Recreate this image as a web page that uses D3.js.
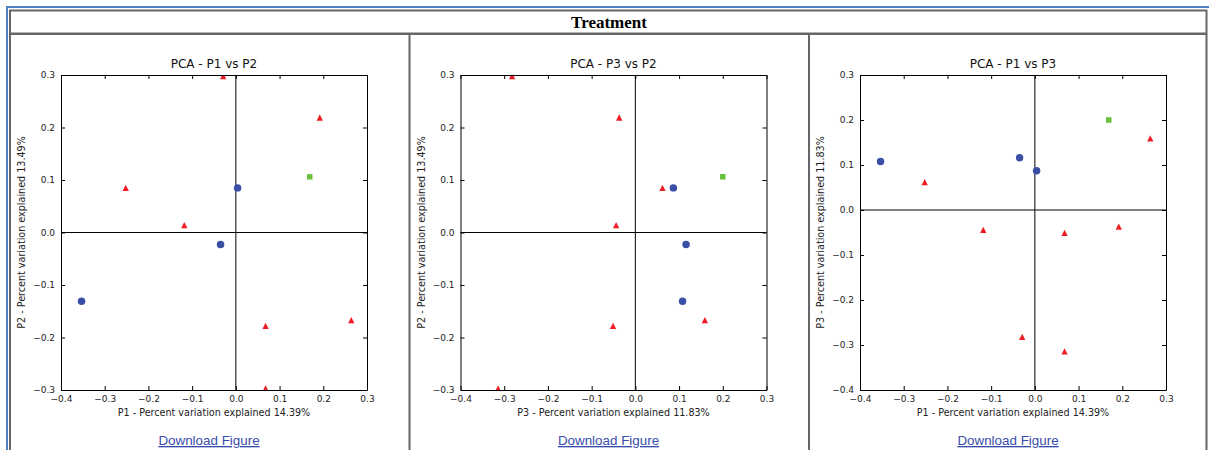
<!DOCTYPE html>
<html>
<head>
<meta charset="utf-8">
<script src="https://d3js.org/d3.v7.min.js"></script>
<style>
  body { margin: 0; background: #fff; }
  .tick text { font-family: "DejaVu Sans", sans-serif; font-size: 9px; fill: #222; }
  .tick line, .domain { stroke: #000; }
  .ttl { font-family: "DejaVu Sans", sans-serif; font-size: 12px; fill: #111; }
  .lbl { font-family: "DejaVu Sans", sans-serif; font-size: 9.6px; fill: #222; }
  .dl { font-family: "Liberation Sans", Arial, sans-serif; font-size: 13.4px; fill: #3a4cab; text-decoration: underline; }
</style>
<title>Treatment</title>
</head>
<body>
<script>
// samples: group and scores on the first three principal coordinates
const sampleGroup = ["a", "a", "a", "a", "a", "a", "a", "b", "b", "b", "c"];
const p1 = [-0.029, 0.192, -0.252, -0.118, 0.068, 0.264, 0.068, 0.004, -0.035, -0.353, 0.169];
const p2 = [0.298, 0.219, 0.085, 0.014, -0.178, -0.167, -0.297, 0.085, -0.023, -0.131, 0.106];
const p3 = [-0.282, -0.037, 0.062, -0.044, -0.051, 0.159, -0.314, 0.087, 0.116, 0.108, 0.200];

const xTicks = [-0.4, -0.3, -0.2, -0.1, 0.0, 0.1, 0.2, 0.3];
const yTicksP2 = [-0.3, -0.2, -0.1, 0.0, 0.1, 0.2, 0.3];
const yTicksP3 = [-0.4, -0.3, -0.2, -0.1, 0.0, 0.1, 0.2, 0.3];

const labP1 = "P1 - Percent variation explained 14.39%";
const labP2 = "P2 - Percent variation explained 13.49%";
const labP3 = "P3 - Percent variation explained 11.83%";

// matplotlib-like '^' marker: centred on its bounding box, width == height
const triUp = {
  draw(ctx, size) {
    const s = Math.sqrt(size) / 2;
    ctx.moveTo(0, -s);
    ctx.lineTo(s, s);
    ctx.lineTo(-s, s);
    ctx.closePath();
  }
};

const groupColor = {a: "#ee1d25", b: "#3a4ea5", c: "#66c03a"};
const groupShape = {a: triUp, b: d3.symbolCircle, c: d3.symbolSquare};
const groupSize = {a: 40, b: 44, c: 30};

const panels = [
  {title: "PCA - P1 vs P2", xs: p1, ys: p2, xLab: labP1, yLab: labP2, yTicks: yTicksP2},
  {title: "PCA - P3 vs P2", xs: p3, ys: p2, xLab: labP3, yLab: labP2, yTicks: yTicksP2},
  {title: "PCA - P1 vs P3", xs: p1, ys: p3, xLab: labP1, yLab: labP3, yTicks: yTicksP3}
];

const W = 1209, H = 450;
const svg = d3.select("body").append("svg").attr("width", W).attr("height", H);

// page frame
svg.append("rect").attr("x", 6).attr("y", 6).attr("width", W - 6).attr("height", 2).attr("fill", "#4f82c2");
svg.append("rect").attr("x", 6).attr("y", 6).attr("width", 2).attr("height", H).attr("fill", "#4f82c2");

const cellX = [10, 409.5, 809, 1206.5];
const frame = svg.append("g").attr("fill", "none").attr("stroke", "#666").attr("stroke-width", 2);
frame.append("rect").attr("x", 10).attr("y", 10.5).attr("width", 1196.5).attr("height", 23);
cellX.forEach(x => frame.append("line").attr("x1", x).attr("x2", x).attr("y1", 34).attr("y2", H));
frame.append("line").attr("x1", 10).attr("x2", 1206.5).attr("y1", 34).attr("y2", 34);

svg.append("text").attr("x", 609).attr("y", 28).attr("text-anchor", "middle")
  .style("font-family", "'Liberation Serif', serif").style("font-weight", "bold").style("font-size", "17px")
  .text("Treatment");

const aw = 306, ah = 315;
const fmt = d3.format(".1f");

panels.forEach((p, i) => {
  const ox = cellX[i] + 51, oy = 75;
  const x = d3.scaleLinear().domain([-0.4, 0.3]).range([0, aw]);
  const y = d3.scaleLinear().domain(d3.extent(p.yTicks)).range([ah, 0]);
  const g = svg.append("g").attr("transform", `translate(${ox},${oy})`);

  g.append("clipPath").attr("id", "clip" + i)
    .append("rect").attr("width", aw).attr("height", ah);

  // zero lines
  g.append("line").attr("x1", x(0)).attr("x2", x(0)).attr("y1", 0).attr("y2", ah).attr("stroke", "#000");
  g.append("line").attr("x1", 0).attr("x2", aw).attr("y1", y(0)).attr("y2", y(0)).attr("stroke", "#000");

  // points
  g.append("g").attr("clip-path", `url(#clip${i})`)
    .selectAll("path").data(sampleGroup).join("path")
    .attr("transform", (d, j) => `translate(${x(p.xs[j])},${y(p.ys[j])})`)
    .attr("d", d => d3.symbol(groupShape[d], groupSize[d])())
    .attr("fill", d => groupColor[d]);

  // axes, ticks pointing inwards on all sides
  g.append("g").attr("transform", `translate(0,${ah})`)
    .call(d3.axisBottom(x).tickValues(xTicks).tickFormat(fmt).tickSize(-4).tickSizeOuter(0).tickPadding(6));
  g.append("g")
    .call(d3.axisTop(x).tickValues(xTicks).tickFormat("").tickSize(-4).tickSizeOuter(0));
  g.append("g")
    .call(d3.axisLeft(y).tickValues(p.yTicks).tickFormat(fmt).tickSize(-4).tickSizeOuter(0).tickPadding(6));
  g.append("g").attr("transform", `translate(${aw},0)`)
    .call(d3.axisRight(y).tickValues(p.yTicks).tickFormat("").tickSize(-4).tickSizeOuter(0));

  g.append("text").attr("class", "ttl").attr("x", aw / 2).attr("y", -7).attr("text-anchor", "middle").text(p.title);
  g.append("text").attr("class", "lbl").attr("x", aw / 2).attr("y", ah + 26).attr("text-anchor", "middle").text(p.xLab);
  g.append("text").attr("class", "lbl").attr("text-anchor", "middle")
    .attr("transform", `translate(-36,${ah / 2}) rotate(-90)`).text(p.yLab);

  svg.append("text").attr("class", "dl").attr("x", ox + aw / 2 - 5).attr("y", 445).attr("text-anchor", "middle")
    .text("Download Figure");
});
</script>
</body>
</html>
